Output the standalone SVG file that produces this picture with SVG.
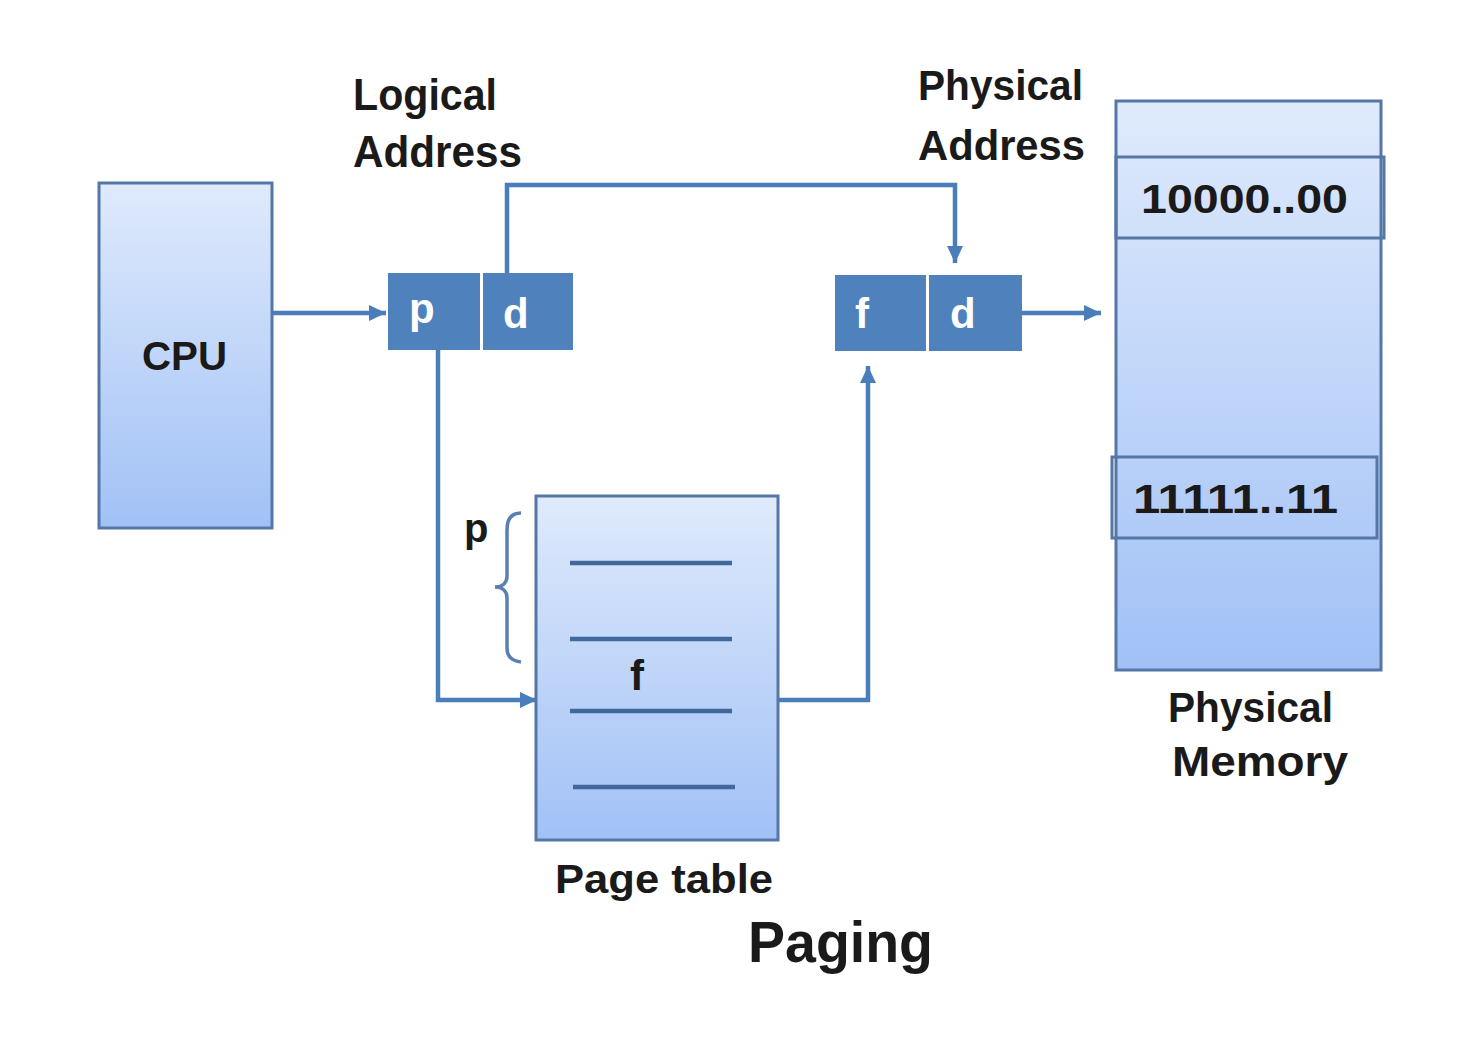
<svg xmlns="http://www.w3.org/2000/svg" width="1462" height="1062" viewBox="0 0 1462 1062">
<style>
.box{fill:url(#g);stroke:#5577a6;stroke-width:3}
.cell{fill:#4f81bd}
.row{fill:none;stroke:#5577a6;stroke-width:3}
.conn{fill:none;stroke:#4a7ebb;stroke-width:4.5}
.tl{stroke:#41689c;stroke-width:4.5}
.t{font-family:"Liberation Sans",Arial,sans-serif;font-weight:bold;fill:#1a1a1a}
.w{font-family:"Liberation Sans",Arial,sans-serif;font-weight:bold;fill:#ffffff;font-size:42px}
</style>
<defs>
<linearGradient id="g" x1="0" y1="0" x2="0" y2="1">
<stop offset="0" stop-color="#dfeafc"/>
<stop offset="1" stop-color="#a1c1f6"/>
</linearGradient>
<marker id="ah" markerWidth="17" markerHeight="16" refX="17" refY="8" orient="auto" markerUnits="userSpaceOnUse">
<path d="M0,0 L17,8 L0,16 Z" fill="#4a7ebb"/>
</marker>
</defs>
<rect width="1462" height="1062" fill="#ffffff"/>

<g id="connectors">
<path class="conn" d="M272,313 H386" marker-end="url(#ah)"/>
<path class="conn" d="M507,273 V185 H955 V263" marker-end="url(#ah)"/>
<path class="conn" d="M438,350 V700 H537" marker-end="url(#ah)"/>
<path class="conn" d="M778,700 H868 V366" marker-end="url(#ah)"/>
<path class="conn" d="M1022,313 H1101" marker-end="url(#ah)"/>
</g>

<g id="cpu">
<rect class="box" x="99" y="183" width="173" height="345"/>
<text class="t" x="142" y="370" font-size="40" textLength="85" lengthAdjust="spacingAndGlyphs">CPU</text>
</g>

<g id="logical-address">
<text class="t" x="353" y="110" font-size="44" textLength="144" lengthAdjust="spacingAndGlyphs">Logical</text>
<text class="t" x="353" y="167" font-size="44" textLength="169" lengthAdjust="spacingAndGlyphs">Address</text>
<rect class="cell" x="388" y="273" width="92" height="77"/>
<rect class="cell" x="483" y="273" width="90" height="77"/>
<text class="w" x="409" y="323">p</text>
<text class="w" x="503" y="328">d</text>
</g>

<g id="physical-address">
<text class="t" x="918" y="100" font-size="42" textLength="165" lengthAdjust="spacingAndGlyphs">Physical</text>
<text class="t" x="918" y="160" font-size="42" textLength="167" lengthAdjust="spacingAndGlyphs">Address</text>
<rect class="cell" x="835" y="275" width="91" height="76"/>
<rect class="cell" x="929" y="275" width="93" height="76"/>
<text class="w" x="855" y="328">f</text>
<text class="w" x="950" y="328">d</text>
</g>

<g id="page-table">
<rect class="box" x="536" y="496" width="242" height="344"/>
<line class="tl" x1="570" y1="563" x2="732" y2="563"/>
<line class="tl" x1="570" y1="639" x2="732" y2="639"/>
<line class="tl" x1="570" y1="711" x2="732" y2="711"/>
<line class="tl" x1="573" y1="787" x2="735" y2="787"/>
<text class="t" x="630" y="690" font-size="42">f</text>
<path d="M521,513 C511,513 507,520 507,530 V576 C507,583 502,587 495,587 C502,587 507,591 507,598 V648 C507,656 512,661 521,662" fill="none" stroke="#5a7fb0" stroke-width="3.5"/>
<text class="t" x="464" y="542" font-size="40">p</text>
<text class="t" x="555" y="893" font-size="40" textLength="218" lengthAdjust="spacingAndGlyphs">Page table</text>
</g>

<g id="physical-memory">
<rect class="box" x="1116" y="101" width="265" height="569"/>
<rect class="row" x="1116" y="157" width="268" height="81"/>
<rect class="row" x="1112" y="457" width="265" height="81"/>
<text class="t" x="1141" y="213" font-size="40" textLength="207" lengthAdjust="spacingAndGlyphs">10000..00</text>
<text class="t" x="1133" y="513" font-size="40" textLength="205" lengthAdjust="spacingAndGlyphs">11111..11</text>
<text class="t" x="1168" y="722" font-size="42" textLength="165" lengthAdjust="spacingAndGlyphs">Physical</text>
<text class="t" x="1172" y="776" font-size="42" textLength="176" lengthAdjust="spacingAndGlyphs">Memory</text>
</g>

<g id="title">
<text class="t" x="748" y="962" font-size="58" textLength="185" lengthAdjust="spacingAndGlyphs">Paging</text>
</g>
</svg>
